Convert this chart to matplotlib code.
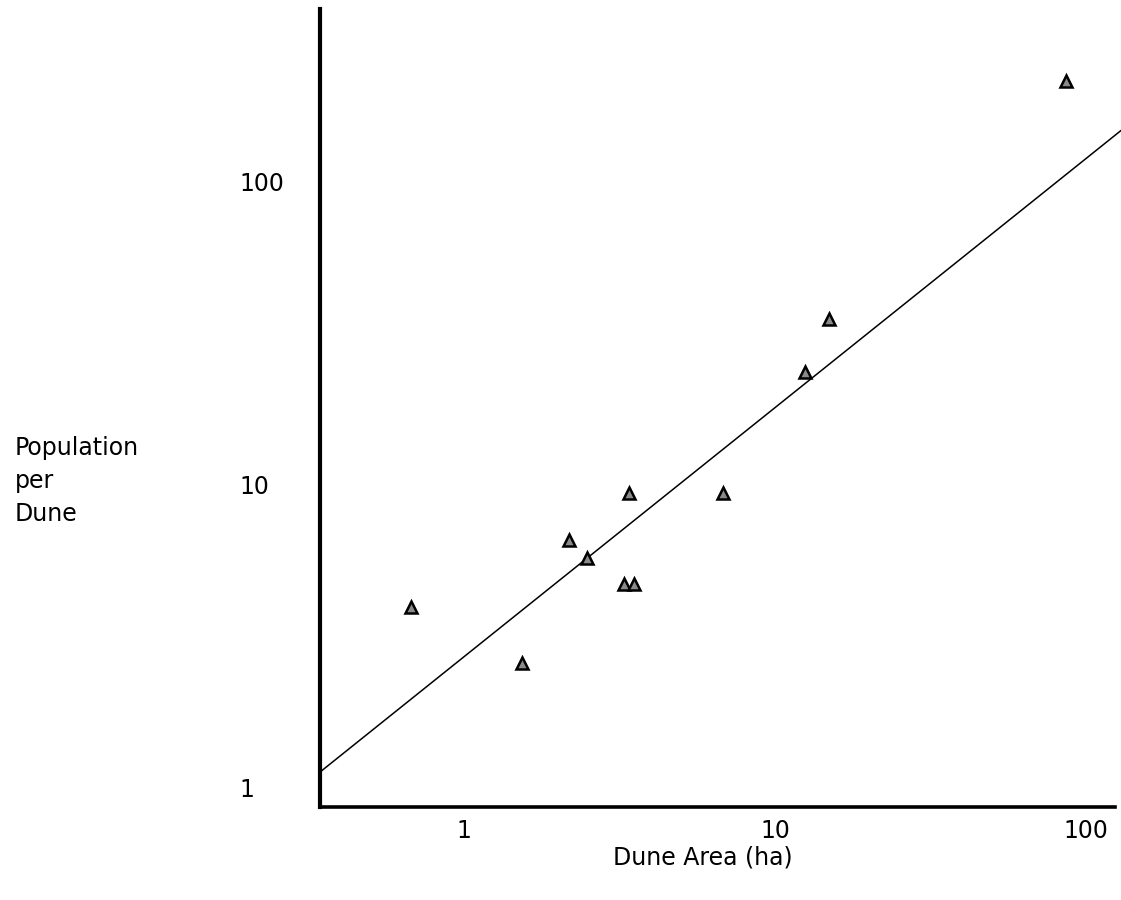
import numpy as np
import matplotlib
matplotlib.use("Agg")
import matplotlib.pyplot as plt

# Data (log-log plot)
dune_area = [0.674, 1.53, 2.18, 2.49, 3.27, 3.53, 3.40, 6.80, 12.5, 14.9, 86.1]
population = [3.94, 2.58, 6.55, 5.70, 4.69, 4.69, 9.39, 9.39, 23.5, 35.3, 216]

# Fitted power law: population = fit_a * area ** fit_b
fit_a = 2.70
fit_b = 0.823

x_ticks = [1, 10, 100]
x_tick_labels = ["1", "10", "100"]
y_ticks = [1, 10, 100]
y_tick_labels = ["1", "10", "100"]

plt.rcParams['font.family'] = ['DejaVu Sans']

fig = plt.figure(figsize=(11.21, 9.0), dpi=100)
ax = fig.add_axes([320 / 1121, 93 / 900, 795 / 1121, 798 / 900])
ax.set_xscale('log')
ax.set_yscale('log')
ax.set_xlim(0.344, 124)
ax.set_ylim(0.86, 373)

xl = np.array(ax.get_xlim())
xl = np.array([xl[0], xl[1] * 1.06])
ax.plot(xl, fit_a * xl ** fit_b, color='black', lw=1.1, clip_on=False, zorder=2)

ax.plot(dune_area, population, linestyle='none', marker='^', markersize=8.5,
        markerfacecolor='#8a8a8a', markeredgecolor='black', markeredgewidth=1.8,
        zorder=3)

for s in ['top', 'right']:
    ax.spines[s].set_visible(False)
ax.spines['left'].set_linewidth(3.0)
ax.spines['bottom'].set_linewidth(2.6)

ax.minorticks_off()
ax.set_xticks(x_ticks)
ax.set_xticklabels(x_tick_labels)
ax.set_yticks(y_ticks)
ax.set_yticklabels(y_tick_labels)
ax.tick_params(axis='x', length=0, pad=9, labelsize=17)
ax.tick_params(axis='y', length=0, pad=58, labelsize=17)
for lab in ax.get_yticklabels():
    lab.set_horizontalalignment('left')

fig.text(703 / 1121, 1 - 858 / 900, "Dune Area (ha)", fontsize=17,
         ha='center', va='center')
fig.text(15 / 1121, 1 - 481 / 900, "Population\nper\nDune", fontsize=17,
         ha='left', va='center', linespacing=1.45)

fig.savefig("out.png", dpi=100, facecolor='white')
